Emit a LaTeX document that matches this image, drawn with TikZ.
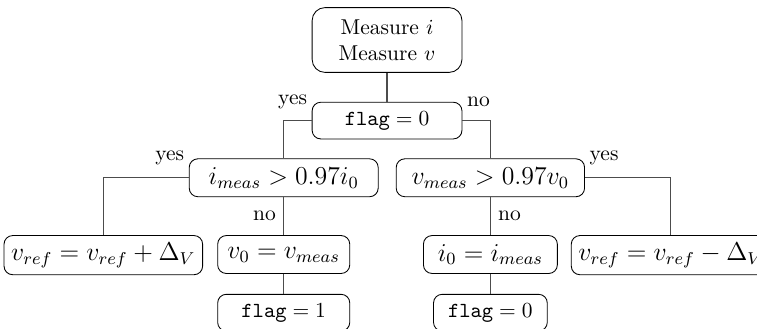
\documentclass[tikz,border=0pt]{standalone}
\usetikzlibrary{positioning}

\begin{document}
\begin{tikzpicture}[
    node distance=0.5cm,
    fbox/.style={rectangle, rounded corners, draw, thin, minimum height=0.6cm, align=center},
    mbox/.style={fbox, minimum height=0.62cm, font=\large},
    lbl/.style={inner sep=2pt},
    link/.style={draw=black!70, line width=0.6pt}
]
\useasboundingbox (-6.33,0.654) rectangle (6.05,-4.724);

\node[fbox, rounded corners=6pt, minimum width=2.45cm, minimum height=1.06cm] (meas) {Measure $i$\\Measure $v$};
\node[fbox, minimum width=2.45cm, below=0.474cm of meas] (flag) {$\texttt{flag}=0$};
\node[mbox, minimum width=3.09cm, below=0.311cm of flag, xshift=-1.69cm] (ichk) {$i_{meas}>0.97i_0$};
\node[mbox, minimum width=3.08cm, below=0.311cm of flag, xshift=1.69cm] (vchk) {$v_{meas}>0.97v_0$};
\node[mbox, minimum width=3.09cm, below=0.621cm of ichk, xshift=-2.95cm] (vup) {$v_{ref}=v_{ref}+\Delta_V$};
\node[mbox, minimum width=2.16cm, below=0.621cm of ichk] (vset) {$v_0=v_{meas}$};
\node[fbox, minimum width=2.16cm, below=0.327cm of vset] (flagon) {$\texttt{flag}=1$};
\node[mbox, minimum width=2.19cm, below=0.621cm of vchk] (iset) {$i_0=i_{meas}$};
\node[fbox, minimum width=1.86cm, below=0.327cm of iset] (flagoff) {$\texttt{flag}=0$};
\node[mbox, minimum width=3.09cm, below=0.621cm of vchk, xshift=2.95cm] (vdown) {$v_{ref}=v_{ref}-\Delta_V$};

\node[lbl, anchor=east] (yflag) at (flag.north west) {yes};
\node[lbl, anchor=west] (nflag) at (flag.north east) {no};
\node[lbl, anchor=east] (yi) at (ichk.north west) {yes};
\node[lbl, anchor=west] (yv) at (vchk.north east) {yes};

\draw[link] (meas) -- (flag);
\draw[link] (flag.west) -| (ichk.north);
\draw[link] (flag.east) -| (vchk.north);
\draw[link] (ichk.west) -| (vup.north);
\draw[link] (ichk) -- node[left] (ino) {no} (vset);
\draw[link] (vset) -- (flagon);
\draw[link] (vchk.east) -| (vdown.north);
\draw[link] (vchk) -- node[right] (vno) {no} (iset);
\draw[link] (iset) -- (flagoff);

\end{tikzpicture}
\end{document}
